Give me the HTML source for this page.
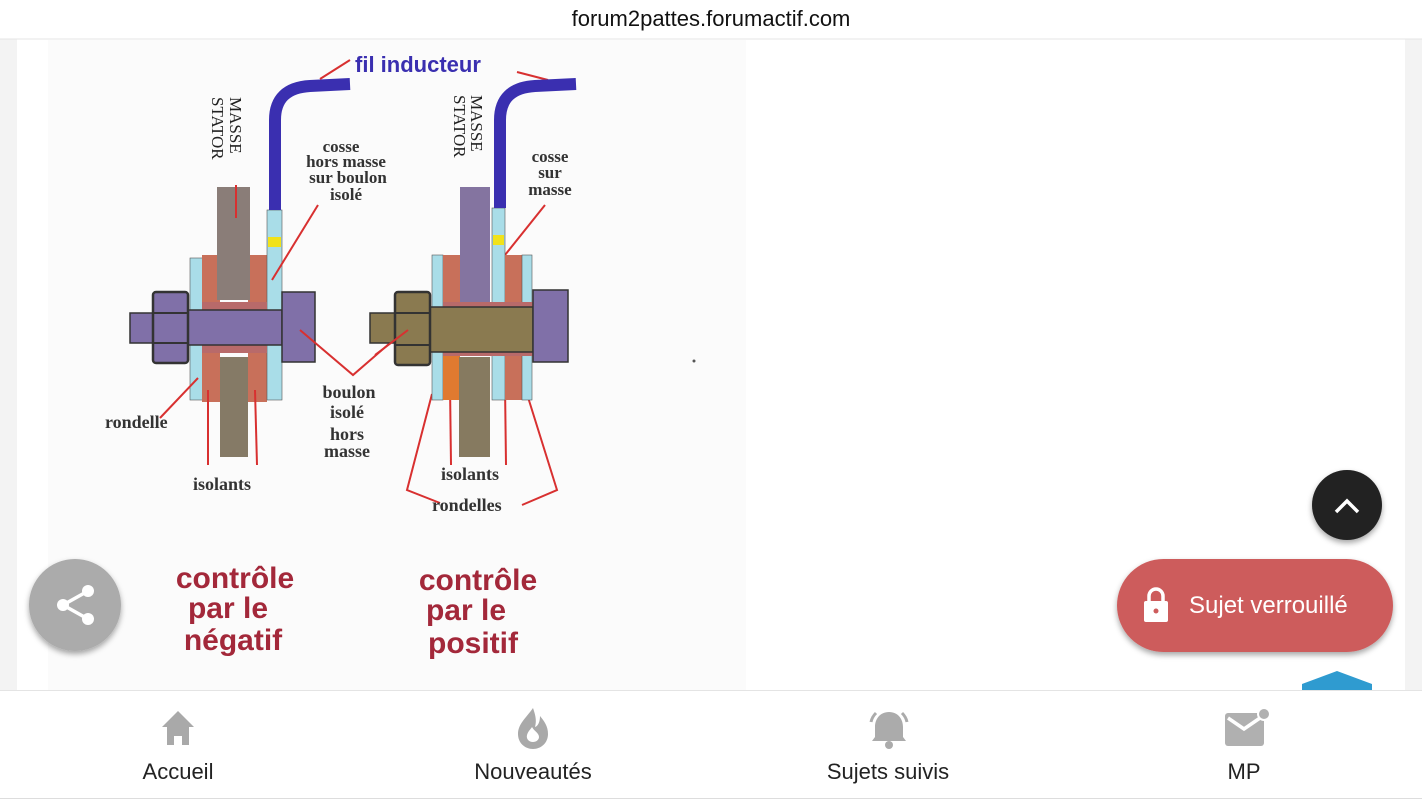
<!DOCTYPE html>
<html><head><meta charset="utf-8"><style>
html,body{margin:0;padding:0;width:1422px;height:800px;overflow:hidden;background:#fff}
svg{display:block}
</style></head><body>
<svg width="1422" height="800" viewBox="0 0 1422 800" xmlns="http://www.w3.org/2000/svg">
<defs>
<filter id="sh" x="-30%" y="-30%" width="160%" height="170%"><feDropShadow dx="0" dy="3" stdDeviation="3" flood-opacity="0.35"/></filter>
</defs>
<rect width="1422" height="800" fill="#fff"/>
<!-- side strips -->
<rect x="0" y="39" width="17" height="652" fill="#f3f3f3"/>
<rect x="1405" y="39" width="17" height="652" fill="#f3f3f3"/>
<line x1="0" y1="39" x2="1422" y2="39" stroke="#e6e6e6"/>
<text x="711" y="26" font-family="Liberation Sans, sans-serif" font-size="22" fill="#111" text-anchor="middle">forum2pattes.forumactif.com</text>
<!-- image bg -->
<rect x="48" y="40" width="698" height="650" fill="#fbfbfb"/>

<g font-family="Liberation Serif, serif" font-weight="bold" fill="#333">
<!-- LEFT DIAGRAM -->
<rect x="190" y="258" width="13" height="142" fill="#a9dde8" stroke="#555" stroke-width="0.6"/>
<rect x="202" y="255" width="18" height="147" fill="#c8705a"/>
<rect x="248" y="255" width="19" height="147" fill="#c8705a"/>
<rect x="217" y="187" width="33" height="113" fill="#8a7d78"/>
<rect x="220" y="357" width="28" height="100" fill="#857a66"/>
<rect x="267" y="210" width="15" height="190" fill="#a9dde8" stroke="#555" stroke-width="0.6"/>
<rect x="268" y="237" width="13" height="10" fill="#f1e21a"/>
<path d="M275 210 L275 120 Q275 88 310 86 L350 84" fill="none" stroke="#3a2fb0" stroke-width="12"/>
<rect x="202" y="302" width="65" height="8" fill="#b86a6a"/>
<rect x="202" y="345" width="65" height="8" fill="#b86a6a"/>
<rect x="130" y="313" width="28" height="30" fill="#8070a8" stroke="#333" stroke-width="1.5"/>
<rect x="155" y="310" width="127" height="35" fill="#8070a8" stroke="#333" stroke-width="1.5"/>
<rect x="153" y="292" width="35" height="71" rx="3" fill="#8070a8" stroke="#333" stroke-width="2.5"/>
<line x1="153" y1="313" x2="188" y2="313" stroke="#333" stroke-width="2"/>
<line x1="153" y1="343" x2="188" y2="343" stroke="#333" stroke-width="2"/>
<rect x="282" y="292" width="33" height="70" fill="#8070a8" stroke="#333" stroke-width="1.5"/>
<!-- pointer lines -->
<g stroke="#d83030" stroke-width="2" fill="none">
<line x1="236" y1="185" x2="236" y2="218"/>
<line x1="320" y1="79" x2="350" y2="60"/>
<line x1="272" y1="280" x2="318" y2="205"/>
<line x1="198" y1="378" x2="160" y2="418"/>
<line x1="208" y1="390" x2="208" y2="465"/>
<line x1="255" y1="390" x2="257" y2="465"/>
<polyline points="300,330 353,375 405,330"/>
<line x1="517" y1="72" x2="548" y2="80"/>
<line x1="496" y1="180" x2="496" y2="218"/>
<line x1="497" y1="265" x2="545" y2="205"/>
<polyline points="432,394 407,490 440,503"/>
<polyline points="527,394 557,490 522,505"/>
<line x1="450" y1="385" x2="451" y2="465"/>
<line x1="505" y1="385" x2="506" y2="465"/>
</g>
<text transform="translate(230,97) rotate(90)" font-size="17" font-weight="normal" fill="#222">MASSE</text>
<text transform="translate(212,97) rotate(90)" font-size="17" font-weight="normal" fill="#222">STATOR</text>
<text font-size="17" text-anchor="middle"><tspan x="341" y="152">cosse</tspan><tspan x="346" y="167">hors masse</tspan><tspan x="348" y="183">sur boulon</tspan><tspan x="346" y="200">isolé</tspan></text>
<text x="105" y="428" font-size="18">rondelle</text>
<text x="193" y="490" font-size="18">isolants</text>
<text font-size="18" text-anchor="middle"><tspan x="349" y="398">boulon</tspan><tspan x="347" y="418">isolé</tspan><tspan x="347" y="440">hors</tspan><tspan x="347" y="457">masse</tspan></text>

<!-- RIGHT DIAGRAM -->
<rect x="432" y="255" width="11" height="145" fill="#a9dde8" stroke="#555" stroke-width="0.6"/>
<rect x="443" y="255" width="17" height="80" fill="#c8705a"/>
<rect x="443" y="345" width="17" height="55" fill="#e07a30"/>
<rect x="460" y="187" width="30" height="116" fill="#8474a0"/>
<rect x="459" y="357" width="31" height="100" fill="#867a60"/>
<rect x="492" y="208" width="13" height="192" fill="#a9dde8" stroke="#555" stroke-width="0.6"/>
<rect x="493" y="235" width="11" height="10" fill="#f1e21a"/>
<rect x="505" y="255" width="17" height="145" fill="#c8705a"/>
<rect x="522" y="255" width="10" height="145" fill="#a9dde8" stroke="#555" stroke-width="0.6"/>
<path d="M500 208 L500 120 Q500 88 535 86 L576 84" fill="none" stroke="#3a2fb0" stroke-width="12"/>
<rect x="443" y="302" width="90" height="7" fill="#b86a6a"/>
<rect x="443" y="349" width="90" height="7" fill="#b86a6a"/>
<rect x="370" y="313" width="30" height="30" fill="#8a7a50" stroke="#333" stroke-width="1.5"/>
<rect x="395" y="307" width="138" height="45" fill="#8a7a50" stroke="#333" stroke-width="1.5"/>
<rect x="395" y="292" width="35" height="73" rx="3" fill="#8a7a50" stroke="#333" stroke-width="2.5"/>
<line x1="395" y1="313" x2="430" y2="313" stroke="#333" stroke-width="2"/>
<line x1="395" y1="345" x2="430" y2="345" stroke="#333" stroke-width="2"/>
<rect x="533" y="290" width="35" height="72" fill="#8070a8" stroke="#333" stroke-width="1.5"/>
<g stroke="#d83030" stroke-width="2"><line x1="375" y1="355" x2="408" y2="330"/></g>
<text transform="translate(471,95) rotate(90)" font-size="17" font-weight="normal" fill="#222">MASSE</text>
<text transform="translate(454,95) rotate(90)" font-size="17" font-weight="normal" fill="#222">STATOR</text>
<text font-size="17" text-anchor="middle"><tspan x="550" y="162">cosse</tspan><tspan x="550" y="178">sur</tspan><tspan x="550" y="195">masse</tspan></text>
<text x="441" y="480" font-size="18">isolants</text>
<text x="432" y="511" font-size="18">rondelles</text>
<text x="355" y="72" font-family="Liberation Sans, sans-serif" font-size="22" fill="#3a2fb0">fil inducteur</text>
</g>
<circle cx="694" cy="361" r="1.5" fill="#555"/>

<g font-family="Liberation Sans, sans-serif" font-weight="bold" font-size="30" fill="#a3283a" text-anchor="middle">
<text x="235" y="588">contrôle</text><text x="228" y="618">par le</text><text x="233" y="650">négatif</text>
<text x="478" y="590">contrôle</text><text x="466" y="620">par le</text><text x="473" y="653">positif</text>
</g>

<!-- share FAB -->
<circle cx="75" cy="605" r="46" fill="#ababab" filter="url(#sh)"/>
<g fill="#fff"><circle cx="88" cy="591" r="6"/><circle cx="88" cy="619" r="6"/><circle cx="63" cy="605" r="6"/></g>
<path d="M88 591 L63 605 L88 619" stroke="#fff" stroke-width="3.5" fill="none"/>

<!-- up FAB -->
<circle cx="1347" cy="505" r="35" fill="#222" filter="url(#sh)"/>
<path d="M1336 512 L1347 501 L1358 512" stroke="#fff" stroke-width="3.5" fill="none"/>
<!-- locked pill -->
<rect x="1117" y="559" width="276" height="93" rx="46.5" fill="#cd5c5c" filter="url(#sh)"/>
<rect x="1144" y="601" width="24" height="21" rx="2" fill="#fff"/>
<path d="M1149 601 v-5 a7 7 0 0 1 14 0 v5" stroke="#fff" stroke-width="3.5" fill="none"/>
<circle cx="1156" cy="611" r="2.5" fill="#cd5c5c"/>
<text x="1189" y="613" font-family="Liberation Sans, sans-serif" font-size="24" fill="#fff">Sujet verrouillé</text>
<path d="M1302 690 L1302 684 L1337 671 L1372 684 L1372 690 Z" fill="#2f9bd0"/>

<!-- bottom nav -->
<rect x="0" y="690" width="1422" height="110" fill="#fff"/>
<line x1="0" y1="690.5" x2="1422" y2="690.5" stroke="#e4e4e4"/>
<line x1="0" y1="798.5" x2="1422" y2="798.5" stroke="#ddd"/>
<path d="M178 711 L162 727 L167 727 L167 745 L174 745 L174 736 L182 736 L182 745 L189 745 L189 727 L194 727 Z" fill="#a9a9a9"/>
<path d="M533 708 C526 718 518 724 518 734 C518 743 525 749 533 749 C541 749 548 743 548 734 C548 726 544 721 540 716 C540 722 538 726 535 727 C537 720 535 714 533 708 Z M533 742 C529 742 526 739 527 735 C528 731 531 729 532 727 C534 731 539 733 539 737 C539 740 536 742 533 742Z" fill="#a9a9a9" fill-rule="evenodd"/>
<path d="M889 712 C880 712 875 719 875 727 L875 737 L872 741 L906 741 L903 737 L903 727 C903 719 898 712 889 712Z" fill="#ababab"/>
<circle cx="889" cy="745" r="4" fill="#ababab"/>
<path d="M876 713 Q872 717 871 722 M902 713 Q906 717 907 722" stroke="#ababab" stroke-width="3" fill="none"/>
<rect x="1225" y="713" width="39" height="33" rx="3" fill="#b0b0b0"/>
<path d="M1228 718 L1244 729 L1260 718" stroke="#fff" stroke-width="3.5" fill="none"/>
<circle cx="1264" cy="714" r="6" fill="#b0b0b0" stroke="#fff" stroke-width="2"/>
<g font-family="Liberation Sans, sans-serif" font-size="22" fill="#222" text-anchor="middle">
<text x="178" y="779">Accueil</text><text x="533" y="779">Nouveautés</text><text x="888" y="779">Sujets suivis</text><text x="1244" y="779">MP</text>
</g>
</svg>
</body></html>
